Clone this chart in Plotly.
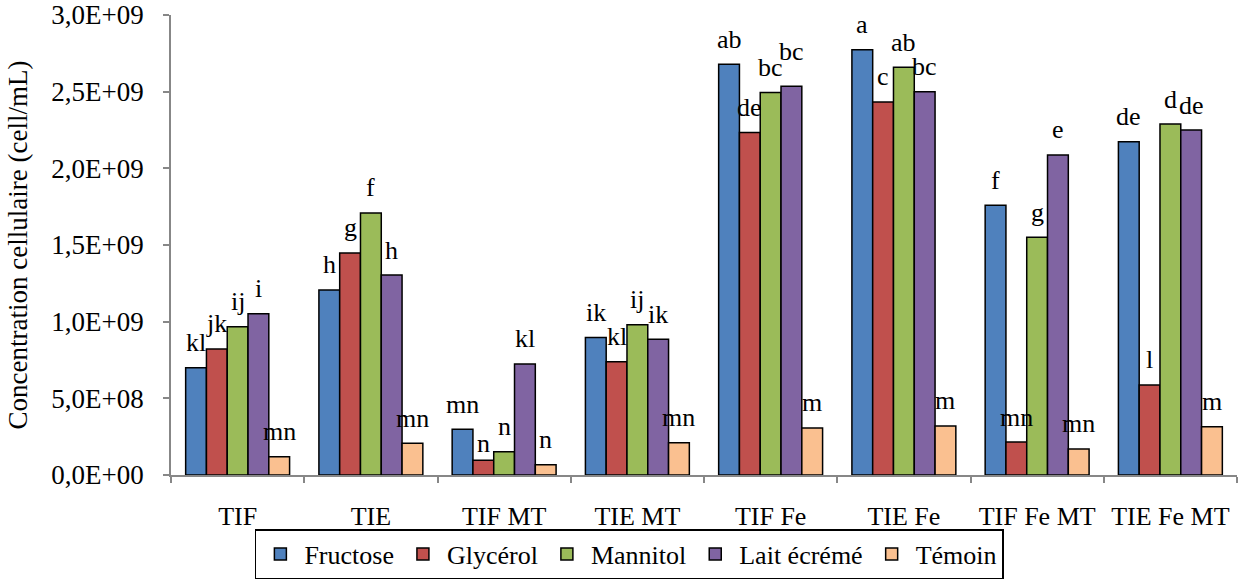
import plotly.graph_objects as go

categories = ["TIF", "TIE", "TIF MT", "TIE MT", "TIF Fe", "TIE Fe", "TIF Fe MT", "TIE Fe MT"]
series_names = ["Fructose", "Glycérol", "Mannitol", "Lait écrémé", "Témoin"]
colors = ["#4F81BD", "#C0504D", "#9BBB59", "#8064A2", "#FAC090"]

fructose = [7.0e8, 1.207e9, 2.98e8, 8.96e8, 2.679e9, 2.774e9, 1.759e9, 2.174e9]
glycerol = [8.22e8, 1.448e9, 9.6e7, 7.39e8, 2.233e9, 2.433e9, 2.15e8, 5.87e8]
mannitol = [9.67e8, 1.709e9, 1.52e8, 9.8e8, 2.494e9, 2.659e9, 1.55e9, 2.289e9]
lait = [1.052e9, 1.304e9, 7.24e8, 8.85e8, 2.535e9, 2.5e9, 2.087e9, 2.25e9]
temoin = [1.19e8, 2.07e8, 6.7e7, 2.11e8, 3.07e8, 3.2e8, 1.7e8, 3.15e8]

lab_fructose = ["kl", "h", "mn", "ik", "ab", "a", "f", "de"]
lab_glycerol = ["jk", "g", "n", "kl", "de", "c", "mn", "l"]
lab_mannitol = ["ij", "f", "n", "ij", "bc", "ab", "g", "d"]
lab_lait = ["i", "h", "kl", "ik", "bc", "bc", "e", "de"]
lab_temoin = ["mn", "mn", "n", "mn", "m", "m", "mn", "m"]

ytick_vals = [0, 5e8, 1e9, 1.5e9, 2e9, 2.5e9, 3e9]
ytick_text = ["0,0E+00", "5,0E+08", "1,0E+09", "1,5E+09", "2,0E+09", "2,5E+09", "3,0E+09"]

values = [fructose, glycerol, mannitol, lait, temoin]
labels = [lab_fructose, lab_glycerol, lab_mannitol, lab_lait, lab_temoin]

FONT = "Liberation Serif"
FS = 26
AXIS_GRAY = "#878787"

# small vertical nudges (px) for a few letter labels, as in the original layout
label_nudge = {(3, "TIF Fe"): 10, (1, "TIF MT"): -8}

fig = go.Figure()
for name, vals, col in zip(series_names, values, colors):
    fig.add_trace(go.Bar(
        name=name, x=categories, y=vals,
        marker=dict(color=col, line=dict(color="black", width=1.5)),
    ))

bar_px = 20.8
annotations = []
for j, (vals, labs) in enumerate(zip(values, labels)):
    for cat, v, t in zip(categories, vals, labs):
        annotations.append(dict(
            x=cat, y=v, xref="x", yref="y", text=t, showarrow=False,
            xshift=(j - 2) * bar_px, yshift=25 + label_nudge.get((j, cat), 0),
            yanchor="middle",
            font=dict(family=FONT, size=FS, color="black"),
        ))

fig.update_layout(
    width=1247, height=579,
    margin=dict(l=171, r=10, t=15, b=104),
    paper_bgcolor="white", plot_bgcolor="white",
    barmode="group", bargap=0.22, bargroupgap=0,
    font=dict(family=FONT, size=FS, color="black"),
    annotations=annotations,
    showlegend=True,
    legend=dict(
        orientation="h", x=0.43, xanchor="center",
        yref="container", y=0.086, yanchor="top",
        bordercolor="black", borderwidth=1.5, font=dict(family=FONT, size=FS),
        itemwidth=38, tracegroupgap=0,
    ),
    xaxis=dict(
        automargin=False,
        showline=True, linecolor=AXIS_GRAY, linewidth=1.5,
        ticks="outside", tickson="boundaries", ticklen=6, tickcolor=AXIS_GRAY, tickwidth=1.5,
        showgrid=False, tickfont=dict(family=FONT, size=FS), ticklabelstandoff=17,
    ),
    yaxis=dict(
        automargin=False, ticklabeloverflow="allow",
        range=[0, 3e9], tickvals=ytick_vals, ticktext=ytick_text,
        showline=True, linecolor=AXIS_GRAY, linewidth=1.5,
        ticks="outside", ticklen=6, tickcolor=AXIS_GRAY, tickwidth=1.5,
        showgrid=False, zeroline=False, tickfont=dict(family=FONT, size=27),
        ticklabelstandoff=14,
        title=dict(text="Concentration cellulaire (cell/mL)", font=dict(family=FONT, size=27), standoff=16),
    ),
)

fig.write_html("out.html", config={"displayModeBar": False},
               post_script="document.body.style.margin='0';")
